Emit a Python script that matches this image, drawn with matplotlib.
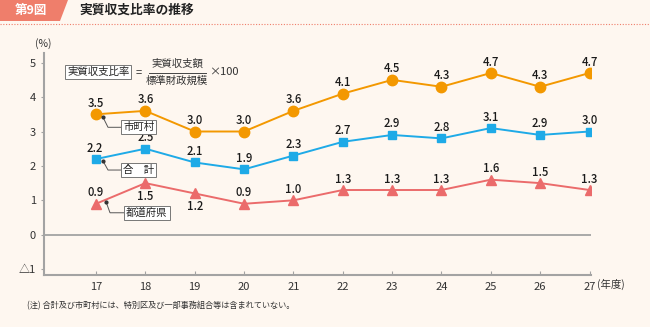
import matplotlib
matplotlib.use("Agg")
import matplotlib.pyplot as plt
from matplotlib.patches import Polygon
from matplotlib.lines import Line2D
from matplotlib.transforms import IdentityTransform

plt.rcParams['font.family'] = ['Noto Sans CJK JP', 'DejaVu Sans']

years = [17, 18, 19, 20, 21, 22, 23, 24, 25, 26, 27]
year_labels = ['17', '18', '19', '20', '21', '22', '23', '24', '25', '26', '27']
municipal = [3.5, 3.6, 3.0, 3.0, 3.6, 4.1, 4.5, 4.3, 4.7, 4.3, 4.7]
total = [2.2, 2.5, 2.1, 1.9, 2.3, 2.7, 2.9, 2.8, 3.1, 2.9, 3.0]
prefecture = [0.9, 1.5, 1.2, 0.9, 1.0, 1.3, 1.3, 1.3, 1.6, 1.5, 1.3]
yticks = [-1, 0, 1, 2, 3, 4, 5]
ytick_labels = ['△1', '0', '1', '2', '3', '4', '5']
series_names = ['市町村', '合　計', '都道府県']

BG = '#fef7f0'
ORANGE = '#f39800'
BLUE = '#1eaae7'
RED = '#eb6b6b'
GRAY = '#a3a3a3'

W, H = 650, 327
fig = plt.figure(figsize=(6.5, 3.27), dpi=100, facecolor=BG)

def fx(px):
    return px / W

def fy(py):
    return 1 - py / H

ax = fig.add_axes([fx(43.7), fy(275), fx(591) - fx(43.7), fy(52.7) - fy(275)])
ax.set_facecolor(BG)
ax.set_xlim(15.94, 27.03)
ax.set_ylim(-1.17, 5.29)

for s in ['top', 'right']:
    ax.spines[s].set_visible(False)
for s in ['left', 'bottom']:
    ax.spines[s].set_color(GRAY)
    ax.spines[s].set_linewidth(1.5)

ax.set_xticks(years)
ax.set_xticklabels(year_labels)
ax.set_yticks(yticks)
ax.set_yticklabels(ytick_labels)
ax.tick_params(axis='x', direction='in', length=3, color=GRAY, labelsize=8, pad=5, labelcolor='#333333')
ax.tick_params(axis='y', direction='out', length=2.5, color=GRAY, labelsize=8, pad=3, labelcolor='#333333')

ax.axhline(0, color=GRAY, lw=1.3, zorder=1)

ax.plot(years, municipal, color=ORANGE, lw=1.4, marker='o', ms=7.5, mec=ORANGE, mfc=ORANGE, zorder=3)
ax.plot(years, total, color=BLUE, lw=1.4, marker='s', ms=6, mec=BLUE, mfc=BLUE, zorder=3)
ax.plot(years, prefecture, color=RED, lw=1.4, marker='^', ms=7.5, mec=RED, mfc=RED, zorder=3)

def label(x, v, dy, dx=0):
    ax.annotate(f'{v:.1f}', xy=(x, v), xytext=(dx, dy), textcoords='offset pixels',
                ha='center', va='center', fontsize=8.2, color='#1a1a1a', fontweight='medium', zorder=4)

for i, (x, v) in enumerate(zip(years, municipal)):
    label(x, v, 11)
for i, (x, v) in enumerate(zip(years, total)):
    label(x, v, 11, -1 if i == 0 else 0)
for i, (x, v) in enumerate(zip(years, prefecture)):
    if i in (1, 2):
        label(x, v, -13)
    else:
        label(x, v, 11)

# callout labels with leader lines
fig.canvas.draw()
callouts = [
    (municipal[0], series_names[0], (7, -3), (12, -13), 27),
    (total[0], series_names[1], (7, -2), (12, -11), 27),
    (prefecture[0], series_names[2], (10, 2), (14, -9), 30),
]
for v, name, dot, corner, boxx in callouts:
    px, py = ax.transData.transform((years[0], v))
    p1 = (px + dot[0], py + dot[1])
    p2 = (px + corner[0], py + corner[1])
    p3 = (px + boxx, py + corner[1])
    fig.add_artist(Line2D([p1[0], p2[0], p3[0]], [p1[1], p2[1], p3[1]], transform=IdentityTransform(),
                          color='#555555', lw=0.7, zorder=5))
    fig.add_artist(Line2D([p1[0]], [p1[1]], transform=IdentityTransform(), marker='o', ms=2,
                          color='#333333', lw=0, zorder=5))
    fig.text((p3[0]) / W, p3[1] / H, name, ha='left', va='center', fontsize=7.5, color='#222222',
             bbox=dict(boxstyle='square,pad=0.2', fc='white', ec='#777777', lw=0.7), zorder=6)

# formula
fig.text(fx(67), fy(72), '実質収支比率', ha='left', va='center', fontsize=7.5, color='#222222',
         bbox=dict(boxstyle='square,pad=0.2', fc='white', ec='#777777', lw=0.7))
fig.text(fx(139), fy(72), '=', ha='center', va='center', fontsize=8, color='#333333')
fig.text(fx(177), fy(64), '実質収支額', ha='center', va='center', fontsize=7.5, color='#333333')
fig.add_artist(Line2D([fx(149), fx(206)], [fy(72.5), fy(72.5)], color='#444444', lw=0.7))
fig.text(fx(177), fy(81), '標準財政規模', ha='center', va='center', fontsize=7.5, color='#333333')
fig.text(fx(209), fy(72), '×100', ha='left', va='center', fontsize=8, color='#333333')

# axis unit labels
fig.text(fx(43), fy(44), '(%)', ha='center', va='center', fontsize=7.5, color='#333333')
fig.text(fx(597), fy(284), '(年度)', ha='left', va='center', fontsize=7.5, color='#333333')

# title bar
tag = Polygon([(fx(0), fy(0)), (fx(68), fy(0)), (fx(60), fy(21)), (fx(0), fy(21))],
              closed=True, transform=fig.transFigure, fc='#ef7e6b', ec='none')
fig.add_artist(tag)
fig.text(fx(31), fy(10.5), '第9図', ha='center', va='center', fontsize=9, color='white', fontweight='bold')
fig.text(fx(79), fy(10.5), '実質収支比率の推移', ha='left', va='center', fontsize=9.2, color='#222222',
         fontweight='bold')
fig.add_artist(Line2D([0, 1], [fy(23.5), fy(23.5)], color='#ef7e6b', lw=0.8, ls=(0, (1, 1.5))))

# footnote
fig.text(fx(27), fy(306), '(注) 合計及び市町村には、特別区及び一部事務組合等は含まれていない。', ha='left',
         va='center', fontsize=5.9, color='#333333')

fig.savefig('out.png', dpi=100, facecolor=BG)
